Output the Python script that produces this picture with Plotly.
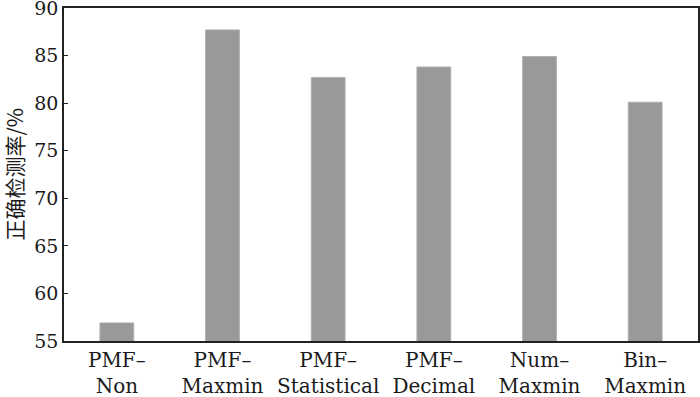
import plotly.graph_objects as go

categories = ["PMF–<br>Non", "PMF–<br>Maxmin", "PMF–<br>Statistical", "PMF–<br>Decimal", "Num–<br>Maxmin", "Bin–<br>Maxmin"]
values = [56.9, 87.7, 82.7, 83.8, 84.9, 80.1]
y_ticks = [55, 60, 65, 70, 75, 80, 85, 90]
y_title = "正确检测率/%"

fig = go.Figure(go.Bar(
    x=categories, y=values,
    marker=dict(color="#999999", line=dict(color="#b0b0b0", width=1)),
    width=0.32,
))

serif = "DejaVu Serif, Liberation Serif, serif"
L, R, T, B = 64, 2, 8, 56
fig.update_layout(
    width=700, height=397,
    margin=dict(l=L, r=R, t=T, b=B, autoexpand=False),
    plot_bgcolor="white", paper_bgcolor="white",
    showlegend=False,
    font=dict(family=serif, size=20, color="#1a1a1a"),
)
fig.update_xaxes(
    showline=True, mirror=True, linecolor="#222222", linewidth=1.5,
    showgrid=False, ticks="", automargin=False, ticklabeloverflow="allow",
    tickfont=dict(family=serif, size=20),
)
fig.update_yaxes(
    range=[55, 90], tickvals=y_ticks,
    showline=True, mirror=True, linecolor="#222222", linewidth=1.5,
    showgrid=False, ticks="inside", ticklen=4, tickcolor="#222222",
    zeroline=False, automargin=False, ticklabeloverflow="allow",
    tickfont=dict(family=serif, size=19),
)
pw = 700 - L - R
fig.add_annotation(
    text=y_title, textangle=-90, showarrow=False,
    xref="paper", yref="paper", x=(13 - L) / pw, y=0.5,
    xanchor="center", yanchor="middle",
    font=dict(family="Noto Sans CJK SC", size=21, color="#1a1a1a"),
)

fig.write_html(
    "out.html",
    config={"displayModeBar": False},
    post_script="document.body.style.margin='0';document.body.style.overflow='hidden';",
)
